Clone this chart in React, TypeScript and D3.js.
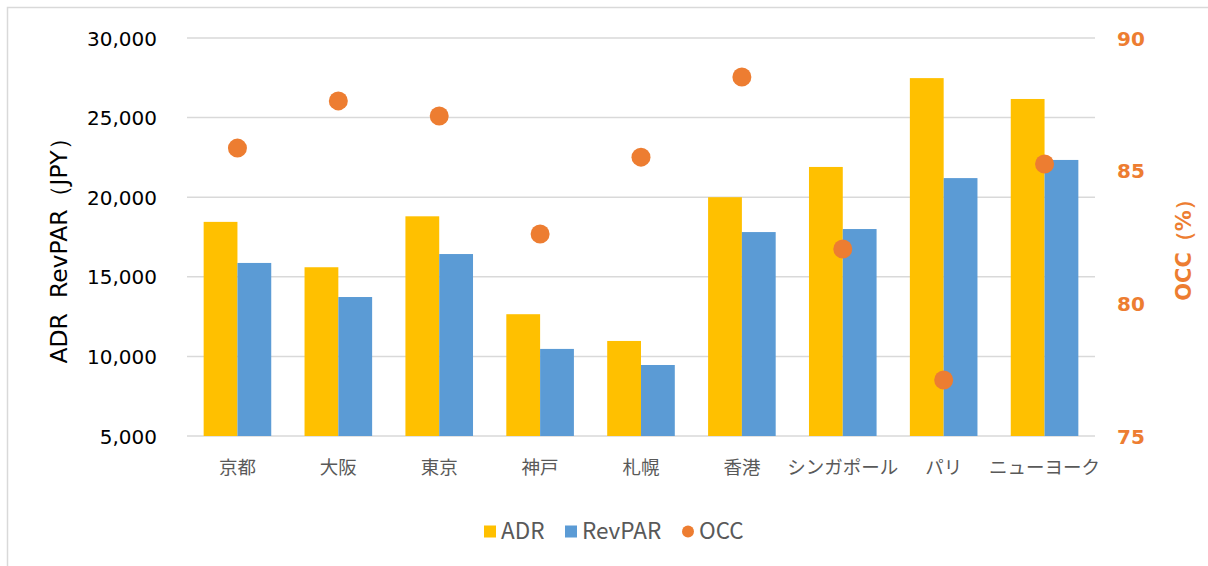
import React, { useEffect, useRef } from 'react';
import * as d3 from 'd3';

const cities = ['京都', '大阪', '東京', '神戸', '札幌', '香港', 'シンガポール', 'パリ', 'ニューヨーク'];
const adr = [18450, 15600, 18800, 12650, 10970, 20000, 21900, 27480, 26170];
const revpar = [15870, 13730, 16430, 10470, 9460, 17810, 18000, 21200, 22340];
const occ = [85.85, 87.63, 87.06, 82.61, 85.51, 88.53, 82.05, 77.11, 85.25];
const leftTicks = [5000, 10000, 15000, 20000, 25000, 30000];
const rightTicks = [75, 80, 85, 90];

const W = 1208;
const H = 566;
const ORANGE = '#ED7D31';
const NUM_FONT = '"DejaVu Sans", Verdana, sans-serif';
const JP_FONT = '"Noto Sans CJK JP", sans-serif';

export default function App() {
  const svgRef = useRef<SVGSVGElement>(null);

  useEffect(() => {
    if (!svgRef.current) return;
    const svg = d3.select(svgRef.current);
    svg.selectAll('*').remove();

    const margin = { top: 38, right: 113, bottom: 130, left: 187 };
    const innerW = W - margin.left - margin.right;
    const innerH = H - margin.top - margin.bottom;

    // chart frame
    svg.append('rect')
      .attr('x', 7.5).attr('y', 7.5)
      .attr('width', W + 10).attr('height', H + 10)
      .attr('fill', '#fff')
      .attr('stroke', '#d9d9d9')
      .attr('stroke-width', 1.5);

    const g = svg.append('g').attr('transform', `translate(${margin.left},${margin.top})`);

    const x = d3.scaleBand().domain(cities).range([0, innerW]).paddingInner(0.33).paddingOuter(0.165);
    const x1 = d3.scaleBand().domain(['ADR', 'RevPAR']).range([0, x.bandwidth()]);
    const y = d3.scaleLinear().domain([5000, 30000]).range([innerH, 0]);
    const y2 = d3.scaleLinear().domain([75, 90]).range([innerH, 0]);

    // gridlines
    g.append('g')
      .selectAll('line')
      .data(leftTicks)
      .join('line')
      .attr('x1', 0).attr('x2', innerW)
      .attr('y1', d => y(d)).attr('y2', d => y(d))
      .attr('stroke', '#d9d9d9')
      .attr('stroke-width', 1.5);

    // left axis
    const yAxis = g.append('g')
      .call(d3.axisLeft(y).tickValues(leftTicks).tickFormat(d3.format(',')).tickSize(0).tickPadding(30));
    yAxis.select('.domain').remove();
    yAxis.selectAll('text')
      .attr('fill', '#000')
      .style('font-family', NUM_FONT)
      .style('font-size', '20px')
      .attr('dy', '0.35em');

    // right axis
    const y2Axis = g.append('g')
      .attr('transform', `translate(${innerW},0)`)
      .call(d3.axisRight(y2).tickValues(rightTicks).tickSize(0).tickPadding(22));
    y2Axis.select('.domain').remove();
    y2Axis.selectAll('text')
      .attr('fill', ORANGE)
      .style('font-family', NUM_FONT)
      .style('font-weight', 'bold')
      .style('font-size', '20px')
      .attr('dy', '0.35em');

    // bars
    const groups = g.append('g')
      .selectAll('g')
      .data(cities.map((c, i) => ({ c, adr: adr[i], revpar: revpar[i] })))
      .join('g')
      .attr('transform', d => `translate(${x(d.c)},0)`);

    groups.append('rect')
      .attr('x', x1('ADR')!)
      .attr('y', d => y(d.adr))
      .attr('width', x1.bandwidth())
      .attr('height', d => innerH - y(d.adr))
      .attr('fill', '#FFC000');

    groups.append('rect')
      .attr('x', x1('RevPAR')!)
      .attr('y', d => y(d.revpar))
      .attr('width', x1.bandwidth())
      .attr('height', d => innerH - y(d.revpar))
      .attr('fill', '#5B9BD5');

    // OCC points
    g.append('g')
      .selectAll('circle')
      .data(cities.map((c, i) => ({ c, v: occ[i] })))
      .join('circle')
      .attr('cx', d => x(d.c)! + x.bandwidth() / 2)
      .attr('cy', d => y2(d.v))
      .attr('r', 9.5)
      .attr('fill', ORANGE);

    // x labels
    const xAxis = g.append('g')
      .attr('transform', `translate(0,${innerH})`)
      .call(d3.axisBottom(x).tickSize(0).tickPadding(25));
    xAxis.select('.domain').remove();
    xAxis.selectAll('text')
      .attr('fill', '#595959')
      .style('font-family', JP_FONT)
      .style('font-size', '18.5px');

    // axis titles
    svg.append('text')
      .attr('transform', `translate(67,${245}) rotate(-90)`)
      .attr('text-anchor', 'middle')
      .attr('fill', '#000')
      .style('font-family', NUM_FONT)
      .style('font-size', '23.5px')
      .style('white-space', 'pre')
      .text('ADR  RevPAR（JPY）');

    svg.append('text')
      .attr('transform', `translate(1191,${245}) rotate(-90)`)
      .attr('text-anchor', 'middle')
      .attr('fill', ORANGE)
      .style('font-family', NUM_FONT)
      .style('font-weight', 'bold')
      .style('font-size', '21px')
      .text('OCC（%）');

    // legend
    const legend = svg.append('g').attr('transform', 'translate(0,531.5)');
    const legendItems = [
      { label: 'ADR', color: '#FFC000', shape: 'rect', x: 484 },
      { label: 'RevPAR', color: '#5B9BD5', shape: 'rect', x: 565 },
      { label: 'OCC', color: ORANGE, shape: 'circle', x: 682 },
    ];
    legendItems.forEach(item => {
      if (item.shape === 'rect') {
        legend.append('rect').attr('x', item.x).attr('y', -6).attr('width', 12).attr('height', 12).attr('fill', item.color);
      } else {
        legend.append('circle').attr('cx', item.x + 6).attr('cy', 0).attr('r', 6).attr('fill', item.color);
      }
      legend.append('text').attr('x', item.x + 17).attr('y', 0).attr('dy', '0.35em').attr('fill', '#595959')
        .style('font-family', JP_FONT).style('font-size', '22.5px').text(item.label);
    });
  }, []);

  return (
    <div style={{ position: 'absolute', left: 0, top: 0, width: W, height: H, overflow: 'hidden', background: '#fff' }}>
      <svg ref={svgRef} width={W} height={H} style={{ display: 'block' }}></svg>
    </div>
  );
}
